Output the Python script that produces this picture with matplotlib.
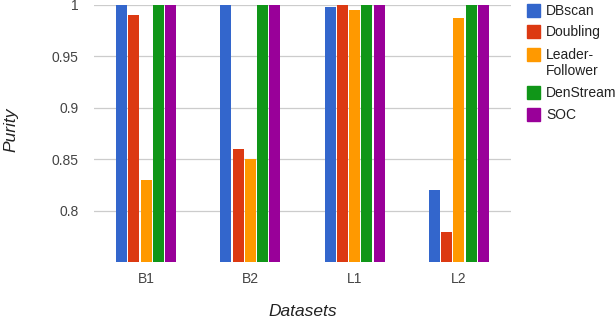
import matplotlib
matplotlib.use("Agg")
import matplotlib.pyplot as plt
from matplotlib.patches import Rectangle
import numpy as np

plt.rcParams['font.family'] = ['Liberation Sans', 'DejaVu Sans']

categories = ["B1", "B2", "L1", "L2"]
series_names = ["DBscan", "Doubling", "Leader-\nFollower", "DenStream", "SOC"]
dbscan = [1.0, 1.0, 0.998, 0.82]
doubling = [0.99, 0.86, 1.0, 0.779]
leader_follower = [0.83, 0.85, 0.995, 0.987]
denstream = [1.0, 1.0, 1.0, 1.0]
soc = [1.0, 1.0, 1.0, 1.0]
series_values = [dbscan, doubling, leader_follower, denstream, soc]
colors = ["#3366cc", "#dc3912", "#ff9900", "#109618", "#990099"]
yticks = [0.8, 0.85, 0.9, 0.95, 1.0]
ytick_labels = ["0.8", "0.85", "0.9", "0.95", "1"]

W, H = 616, 322
fig = plt.figure(figsize=(W / 100, H / 100), dpi=100)
ax = fig.add_axes([94 / W, 1 - 262 / H, (511 - 94) / W, (262 - 5) / H])

x = np.arange(len(categories))
group_w = 0.585
bw = group_w / len(series_values)
for i, (vals, c) in enumerate(zip(series_values, colors)):
    offs = -group_w / 2 + bw * (i + 0.5)
    ax.bar(x + offs, vals, width=bw * 0.9, color=c, zorder=3, linewidth=0)

ax.set_xlim(-0.5, len(categories) - 0.5)
ax.set_ylim(0.75, 1.0)
ax.set_yticks(yticks)
ax.set_yticklabels(ytick_labels)
ax.set_xticks(x)
ax.set_xticklabels(categories)
ax.tick_params(axis='both', length=0, labelsize=10, colors="#444444")
ax.tick_params(axis='y', pad=11)
ax.tick_params(axis='x', pad=7)
for s in ax.spines.values():
    s.set_visible(False)
ax.yaxis.grid(True, color="#cccccc", linewidth=0.9, zorder=0)
ax.set_axisbelow(True)

fig.text(303 / W, 1 - 312 / H, "Datasets", ha="center", va="center",
         fontsize=12.5, style="italic", color="#222222")
fig.text(11 / W, 1 - 130 / H, "Purity", ha="center", va="center",
         fontsize=12.5, style="italic", color="#222222", rotation=90)

# legend
ys = [11, 32, 55, 93, 115]
for name, c, yy in zip(series_names, colors, ys):
    fig.patches.append(Rectangle((527 / W, 1 - (yy + 6) / H), 13 / W, 13 / H,
                                 transform=fig.transFigure, color=c))
    fig.text(546 / W, 1 - (yy - 7) / H, name, ha="left", va="top",
             fontsize=10, color="#222222", linespacing=1.2)

fig.savefig("out.png", dpi=100)
